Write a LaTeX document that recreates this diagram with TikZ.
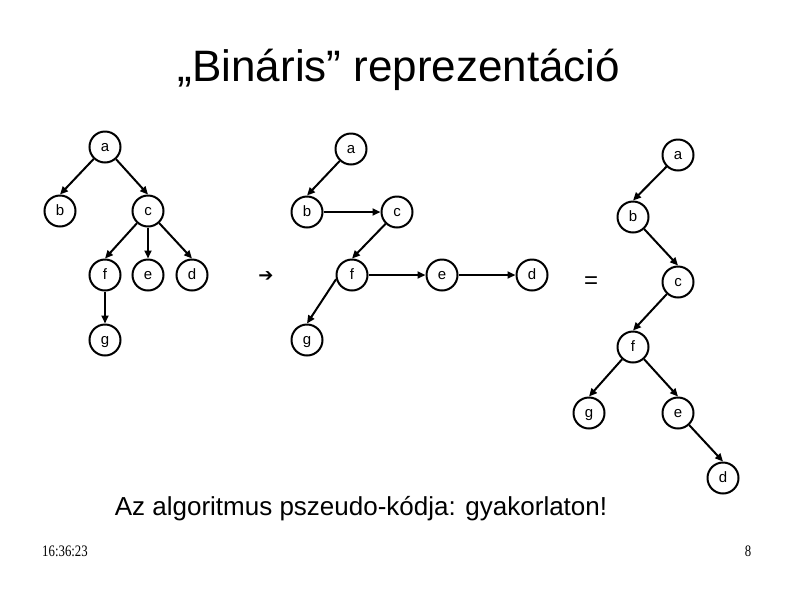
\documentclass[tikz,border=0pt]{standalone}
\usepackage{fontspec}
\setmainfont{Liberation Sans}
\newfontfamily\stampfont{Liberation Serif}
\newfontfamily\glyphfont{DejaVu Sans}
\usetikzlibrary{arrows.meta}

\tikzset{
    vertex/.style={draw, circle, line width=2pt, minimum size=31pt, inner sep=0pt,
        text height=10pt, text depth=2pt, font=\fontsize{15}{17}\selectfont},
    link/.style={line width=2pt, -{Triangle[length=8pt,width=7pt]}}
}

\begin{document}
\begin{tikzpicture}[x=1pt,y=-1pt]
\useasboundingbox (0,0) rectangle (794,595);

% Title
\node[anchor=base, font=\fontsize{44}{48}\selectfont] (title) at (399,81) {„Bináris” reprezentáció};

% Original tree
\node[vertex] (a1) at (105,147) {a};
\node[vertex] (b1) at (60,211) {b};
\node[vertex] (c1) at (148,211) {c};
\node[vertex] (f1) at (105,275) {f};
\node[vertex] (e1) at (148,275) {e};
\node[vertex] (d1) at (192,275) {d};
\node[vertex] (g1) at (105,340) {g};
\draw[link] (a1) -- (b1.north);
\draw[link] (a1) -- (c1.north);
\draw[link] (c1) -- (f1.north);
\draw[link] (c1) -- (e1.north);
\draw[link] (c1) -- (d1.north);
\draw[link] (f1) -- (g1.north);

% Arrow sign
\node[font=\glyphfont\fontsize{18}{20}\selectfont] (to) at (266,277) {➔};

% First child / next sibling
\node[vertex] (a2) at (351,149) {a};
\node[vertex] (b2) at (307,212) {b};
\node[vertex] (c2) at (397,212) {c};
\node[vertex] (f2) at (352,275) {f};
\node[vertex] (e2) at (442,275) {e};
\node[vertex] (d2) at (532,275) {d};
\node[vertex] (g2) at (307,340) {g};
\draw[link] (a2) -- (b2.north);
\draw[link] (b2) -- (c2);
\draw[link] (c2) -- (f2.north);
\draw[link] (f2) -- (e2);
\draw[link] (e2) -- (d2);
\draw[link] (f2.195) -- (g2.north);

% Equals sign
\node[font=\fontsize{24}{26}\selectfont] (eq) at (591,283) {=};

% Binary tree
\node[vertex] (a3) at (678,155) {a};
\node[vertex] (b3) at (633,217) {b};
\node[vertex] (c3) at (678,282) {c};
\node[vertex] (f3) at (633,347) {f};
\node[vertex] (g3) at (589,413) {g};
\node[vertex] (e3) at (678,413) {e};
\node[vertex] (d3) at (723,478) {d};
\draw[link] (a3) -- (b3.north);
\draw[link] (b3) -- (c3.north);
\draw[link] (c3) -- (f3.north);
\draw[link] (f3) -- (g3.north);
\draw[link] (f3) -- (e3.north);
\draw[link] (e3) -- (d3.north);

% Note
\node[anchor=base, font=\fontsize{26}{28}\selectfont] (note) at (361,515) {Az algoritmus pszeudo-kódja: gyakorlaton!};

% Footer
\node[anchor=base, xscale=0.8, font=\stampfont\fontsize{16}{18}\selectfont] (time) at (65,556) {16:36:23};
\node[anchor=base, xscale=0.8, font=\stampfont\fontsize{16}{18}\selectfont] (page) at (748,556) {8};

\end{tikzpicture}
\end{document}
